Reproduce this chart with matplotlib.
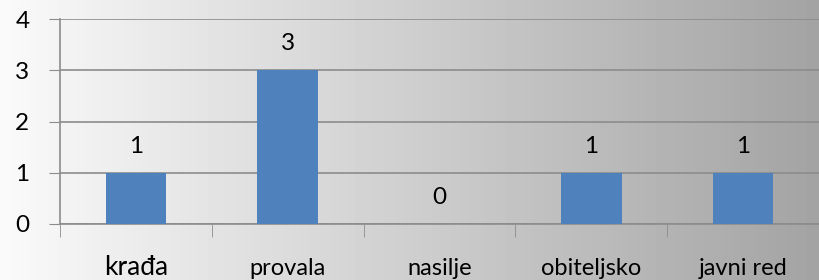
import numpy as np
import matplotlib.pyplot as plt

categories = ['krađa', 'provala', 'nasilje', 'obiteljsko', 'javni red']
values = [1, 3, 0, 1, 1]
label_sizes = [19, 17, 17, 17, 17]

plt.rcParams['font.family'] = ['Lato', 'DejaVu Sans']

fig = plt.figure(figsize=(8.19, 2.8), dpi=100)

# gradient background over the whole figure
bg = fig.add_axes([0, 0, 1, 1])
grad = np.linspace(0.98, 0.64, 256).reshape(1, -1)
bg.imshow(grad, aspect='auto', cmap='gray', vmin=0, vmax=1, extent=[0, 1, 0, 1])
bg.axis('off')

ax = fig.add_axes([60 / 819, 1 - 224 / 280, 759 / 819, 205 / 280])
ax.patch.set_alpha(0)
x = np.arange(len(categories))
ax.bar(x, values, width=0.4, color='#4f81bd', zorder=3)
for xi, v in zip(x, values):
    ax.text(xi, v + 0.52, str(v), ha='center', va='center', fontsize=17.5, color='black')

ax.set_xlim(-0.5, len(categories) - 0.5)
ax.set_ylim(0, 4)
ax.set_yticks(range(5))
ax.tick_params(axis='y', length=8, color='#8c8c8c', labelsize=17.5, pad=14)
ax.yaxis.grid(True, color='#8c8c8c', linewidth=1.2, zorder=0)
ax.set_xticks(np.arange(len(categories) + 1) - 0.5, minor=True)
ax.set_xticks(x)
ax.set_xticklabels(categories)
ax.tick_params(axis='x', which='major', length=0, pad=37)
ax.tick_params(axis='x', which='minor', length=9, color='#8c8c8c')
for lbl, s in zip(ax.get_xticklabels(), label_sizes):
    lbl.set_fontsize(s)
    lbl.set_va('baseline')
for side in ['top', 'right']:
    ax.spines[side].set_visible(False)
ax.spines['left'].set_color('#8c8c8c')
ax.spines['bottom'].set_color('#8c8c8c')
ax.spines['left'].set_linewidth(1.2)
ax.spines['bottom'].set_linewidth(1.2)

fig.savefig('out.png', dpi=100)
